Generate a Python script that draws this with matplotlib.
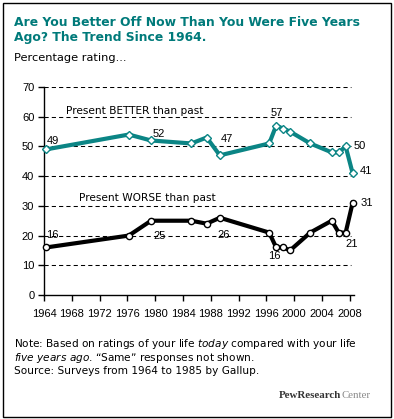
import matplotlib
matplotlib.use("Agg")
import matplotlib.pyplot as plt
from matplotlib import font_manager
from matplotlib.patches import Rectangle

# Survey dates (approximate) and ratings
years = [1964.3, 1976.2, 1979.4, 1985.2, 1987.4, 1989.3, 1996.4, 1997.4,
         1998.4, 1999.4, 2002.3, 2005.4, 2006.4, 2007.4, 2008.4]
better = [49, 54, 52, 51, 53, 47, 51, 57, 56, 55, 51, 48, 48, 50, 41]
worse = [16, 20, 25, 25, 24, 26, 21, 16, 16, 15, 21, 25, 21, 21, 31]

# which points get a value label, and the pixel offset of the label
better_labels = {0: (7, 8), 2: (8, 6), 5: (7, 16), 7: (1, 13), 13: (14, 0), 14: (13, 2)}
worse_labels = {0: (6, 12), 2: (9, -15), 5: (4, -17), 7: (-2, -9), 13: (6, -11), 14: (14, 0)}

xticks = list(range(1964, 2009, 4))
yticks = list(range(0, 71, 10))

teal = "#0b8585"
title_teal = "#007a7a"

names = {f.name for f in font_manager.fontManager.ttflist}
num_font = "Liberation Sans Narrow" if "Liberation Sans Narrow" in names else "Liberation Sans"
num_size = 8.6 if num_font == "Liberation Sans Narrow" else 8.0

W, H = 394, 419
fig = plt.figure(figsize=(W / 100, H / 100), dpi=100)
fig.patch.set_facecolor("white")

# outer frame
fig.patches.append(Rectangle((3 / W, 2 / H), 388 / W, 414 / H, transform=fig.transFigure,
                             fill=False, edgecolor="black", linewidth=1.0))

ax = fig.add_axes([44 / W, 1 - 295 / H, 310 / W, 208 / H])
ax.set_xlim(1964, 2008.6)
ax.set_ylim(0, 70)

for v in yticks[1:]:
    ax.axhline(v, color="black", linewidth=0.75, linestyle=(0, (4, 3)), xmax=0.99, zorder=1)

ax.plot(years, better, color=teal, linewidth=3.0, marker="D", markersize=4.5,
        markerfacecolor="white", markeredgecolor=teal, markeredgewidth=1.0, zorder=3,
        clip_on=False)
ax.plot(years, worse, color="black", linewidth=3.0, marker="o", markersize=4.5,
        markerfacecolor="white", markeredgecolor="black", markeredgewidth=1.0, zorder=3,
        clip_on=False)

for i, (dx, dy) in better_labels.items():
    ax.annotate(str(better[i]), (years[i], better[i]), xytext=(dx, dy),
                textcoords="offset pixels", ha="center", va="center",
                fontsize=num_size, family=num_font, annotation_clip=False)
for i, (dx, dy) in worse_labels.items():
    ax.annotate(str(worse[i]), (years[i], worse[i]), xytext=(dx, dy),
                textcoords="offset pixels", ha="center", va="center",
                fontsize=num_size, family=num_font, annotation_clip=False)

ax.text(1977.1, 62, "Present BETTER than past", ha="center", va="center", fontsize=7.6)
ax.text(1978.9, 32.8, "Present WORSE than past", ha="center", va="center", fontsize=7.6)

ax.set_xticks(xticks)
ax.set_yticks(yticks)
ax.tick_params(axis="both", direction="out", length=4, width=1, color="black",
               labelsize=num_size)
ax.tick_params(axis="x", pad=6)
ax.tick_params(axis="y", pad=3)
for lab in ax.get_xticklabels() + ax.get_yticklabels():
    lab.set_family(num_font)

for side in ["top", "right"]:
    ax.spines[side].set_visible(False)
ax.spines["left"].set_linewidth(1)
ax.spines["bottom"].set_linewidth(1)

# titles and notes
fig.text(14 / W, 1 - 22 / H, "Are You Better Off Now Than You Were Five Years",
         color=title_teal, fontsize=8.9, fontweight="bold", va="center")
fig.text(14 / W, 1 - 38 / H, "Ago? The Trend Since 1964.",
         color=title_teal, fontsize=8.9, fontweight="bold", va="center")
fig.text(14 / W, 1 - 58 / H, "Percentage rating...", fontsize=8.2, va="center")

fig.text(14 / W, 1 - 351 / H,
         "Note: Based on ratings of your life $\\it{today}$ compared with your life\n"
         "$\\it{five\\ years\\ ago}$. \u201cSame\u201d responses not shown.",
         fontsize=7.6, va="center", linespacing=0.95)
fig.text(14 / W, 1 - 371 / H, "Source: Surveys from 1964 to 1985 by Gallup.",
         fontsize=7.6, va="center")

fig.text(341 / W, 1 - 395 / H, "PewResearch", family="Liberation Serif",
         fontweight="bold", fontsize=7.8, color="#333333", ha="right", va="center")
fig.text(341 / W, 1 - 395 / H, "Center", family="Liberation Serif",
         fontsize=7.8, color="#8a8a8a", ha="left", va="center")

fig.savefig("out.png", dpi=100)
